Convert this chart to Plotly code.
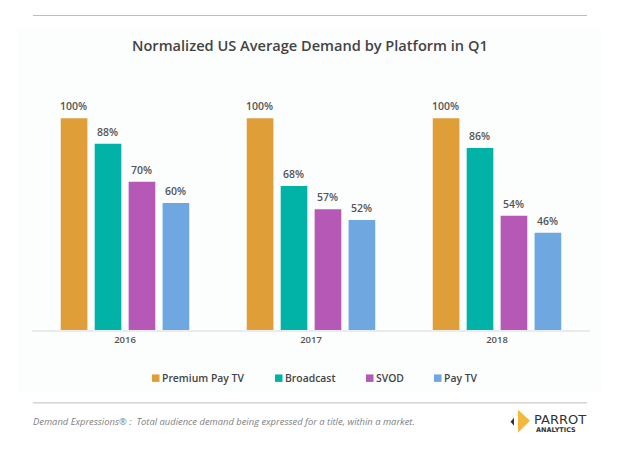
import plotly.graph_objects as go

years = ["2016", "2017", "2018"]
premium = [100, 100, 100]
broadcast = [88, 68, 86]
svod = [70, 57, 54]
paytv = [60, 52, 46]

# page puts the figure 8px in from the corner, so the figure is smaller and
# positions below are given in picture pixels and shifted by OFF
OFF = 8
W = 620 - OFF
H = 451 - OFF
L = 32
R = 590
T = 75.6
B = 330

def px(x):
    return (x - L) / (R - L)

def py(y):
    return (B - y) / (B - T)

fig = go.Figure()

series = [("Premium Pay TV", premium, "#E09E38"),
          ("Broadcast", broadcast, "#00B3A6"),
          ("SVOD", svod, "#B658B6"),
          ("Pay TV", paytv, "#6FA8E0")]

pitch = 33.9
for i, (name, vals, col) in enumerate(series):
    fig.add_trace(go.Bar(x=years, y=vals, name=name,
                         marker=dict(color=col, line=dict(width=0))))
    # annotations on a category axis take the category index, not the label
    for k, v in enumerate(vals):
        fig.add_annotation(x=k, y=v, text=str(v) + "%", showarrow=False, yanchor="bottom",
                           xshift=(i - 1.5) * pitch - 0.5, yshift=3,
                           font=dict(family="Open Sans", size=10.5, color="#555555", weight=600))

# legend is drawn by hand, plotly keeps too big a gap between key and text
key_left = [152, 275, 366, 434]
for (name, vals, col), kx in zip(series, key_left):
    fig.add_shape(type="rect", xref="paper", yref="paper", x0=px(kx), x1=px(kx + 7.5),
                  y0=py(382), y1=py(374.5), fillcolor=col, line=dict(width=0))
    fig.add_annotation(text=name, xref="paper", yref="paper", x=px(kx + 8), y=py(378.5), showarrow=False,
                       xanchor="left", yanchor="middle",
                       font=dict(family="Open Sans", size=10.4, color="#444444", weight=600))

# faint panel behind the chart and the two rules
fig.add_shape(type="rect", xref="paper", yref="paper", x0=px(18), x1=px(602), y0=py(392), y1=py(28),
              fillcolor="#FCFDFD", line=dict(width=0), layer="below")
for yy in [15, 403]:
    fig.add_shape(type="line", xref="paper", yref="paper", x0=px(33), x1=px(587), y0=py(yy), y1=py(yy),
                  line=dict(color="#BDBDBD", width=1))

# logo
fig.add_shape(type="path", xref="paper", yref="paper",
              path=f"M {px(518)} {py(410)} L {px(530)} {py(421)} L {px(518)} {py(433)} Z",
              fillcolor="#F5B83D", line=dict(width=0))
fig.add_shape(type="path", xref="paper", yref="paper",
              path=f"M {px(510.5)} {py(422)} L {px(514)} {py(418)} L {px(514)} {py(426)} Z",
              fillcolor="#333333", line=dict(width=0))

fig.add_annotation(text="Normalized US Average Demand by Platform in Q1", xref="paper", yref="paper",
                   x=px(310), y=py(44.5), showarrow=False, xanchor="center", yanchor="middle",
                   font=dict(family="Open Sans", size=14.6, color="#444444", weight=600))
fig.add_annotation(text="<i>Demand Expressions® :  Total audience demand being expressed for a title, within a market.</i>",
                   xref="paper", yref="paper", x=px(31), y=py(422), showarrow=False, xanchor="left", yanchor="middle",
                   font=dict(family="Open Sans", size=9.4, color="#808080"))
fig.add_annotation(text="PARROT", xref="paper", yref="paper", x=px(560), y=py(420), showarrow=False,
                   xanchor="center", yanchor="middle",
                   font=dict(family="DejaVu Sans", size=13, color="#333333"))
fig.add_annotation(text="ANALYTICS", xref="paper", yref="paper", x=px(556), y=py(430.5), showarrow=False,
                   xanchor="center", yanchor="middle",
                   font=dict(family="DejaVu Sans", size=6.5, color="#333333", weight=700))

fig.update_layout(
    width=W, height=H,
    margin=dict(l=L - OFF, r=W - (R - OFF), t=T - OFF, b=H - (B - OFF), pad=0),
    paper_bgcolor="white", plot_bgcolor="rgba(0,0,0,0)",
    barmode="group", bargap=0.27, bargroupgap=0.215,
    showlegend=False,
    xaxis=dict(type="category", range=[-0.5, 2.5], showgrid=False, showline=True, linecolor="#E9ECEE", linewidth=2,
               ticks="", tickfont=dict(family="Open Sans", size=9.5, color="#555555", weight=600)),
    yaxis=dict(range=[0, 120], visible=False, showgrid=False, zeroline=False),
)

fig.write_html("out.html")
